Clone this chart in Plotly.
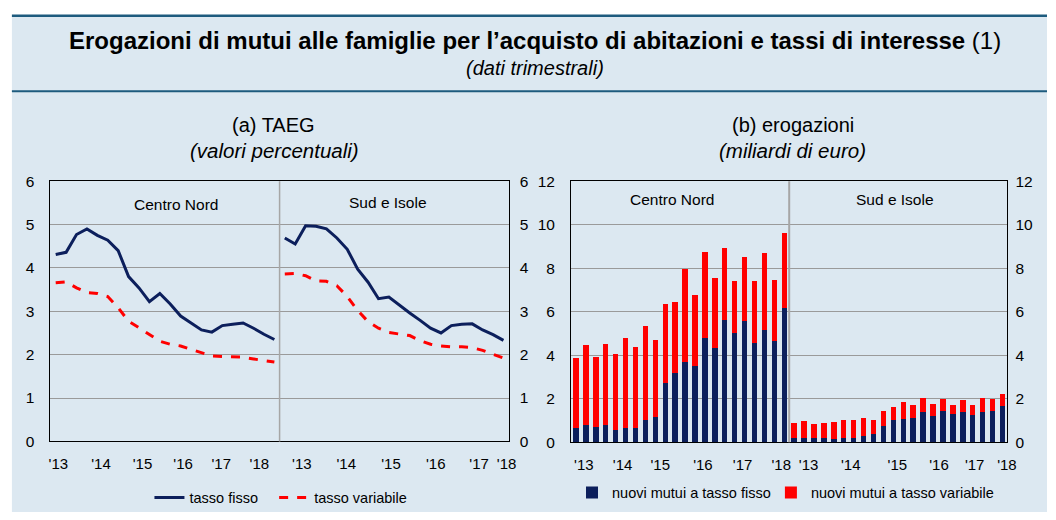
import plotly.graph_objects as go

W, H = 1056, 520

# ---------------- data ----------------
quarters = list(range(22))
cn_fisso = [4.31, 4.36, 4.77, 4.90, 4.75, 4.64, 4.40, 3.80, 3.54, 3.22, 3.41, 3.17,
            2.89, 2.73, 2.57, 2.52, 2.67, 2.70, 2.73, 2.61, 2.47, 2.35]
cn_variabile = [3.66, 3.68, 3.54, 3.43, 3.41, 3.34, 3.08, 2.77, 2.62, 2.46, 2.31, 2.24,
                2.20, 2.12, 2.05, 1.97, 1.96, 1.95, 1.94, 1.90, 1.86, 1.83]
si_fisso = [4.69, 4.55, 4.97, 4.96, 4.90, 4.69, 4.43, 3.97, 3.67, 3.29, 3.33, 3.14,
            2.96, 2.79, 2.61, 2.50, 2.67, 2.70, 2.71, 2.57, 2.46, 2.33]
si_variabile = [3.86, 3.87, 3.82, 3.70, 3.69, 3.59, 3.34, 3.02, 2.76, 2.61, 2.51, 2.48,
                2.44, 2.32, 2.24, 2.20, 2.18, 2.18, 2.16, 2.10, 2.01, 1.92]

# erogazioni (miliardi di euro): totals and fixed-rate component
cn_totale = [3.86, 4.49, 3.91, 4.53, 4.08, 4.80, 4.40, 5.33, 4.72, 6.37, 6.43, 7.96,
             6.76, 8.76, 7.56, 8.94, 7.43, 8.51, 7.43, 8.72, 7.47, 9.61]
cn_mutui_fisso = [0.64, 0.82, 0.71, 0.82, 0.56, 0.65, 0.68, 1.05, 1.16, 2.72, 3.19, 3.68,
                  3.51, 4.81, 4.35, 5.61, 5.01, 5.57, 4.56, 5.15, 4.65, 6.19]
si_totale = [0.89, 0.97, 0.83, 0.89, 0.92, 1.05, 1.01, 1.14, 1.05, 1.46, 1.63, 1.87,
             1.72, 2.03, 1.77, 1.98, 1.72, 1.95, 1.72, 2.03, 1.98, 2.23]
si_mutui_fisso = [0.22, 0.22, 0.22, 0.19, 0.15, 0.19, 0.22, 0.31, 0.37, 0.77, 1.01, 1.08,
                  1.10, 1.38, 1.20, 1.43, 1.29, 1.41, 1.25, 1.41, 1.46, 1.68]
cn_mutui_var = [round(t - f, 2) for t, f in zip(cn_totale, cn_mutui_fisso)]
si_mutui_var = [round(t - f, 2) for t, f in zip(si_totale, si_mutui_fisso)]

year_labels = ["'13", "'14", "'15", "'16", "'17", "'18"]
tick_pos_a = [0.26, 4.35, 8.34, 12.24, 15.9, 19.56, 23.64, 27.9, 32.2, 36.5, 40.66, 43.3]
tick_pos_b = [0.8, 4.7, 8.5, 12.8, 16.8, 20.7, 23.45, 27.7, 32.4, 36.6, 40.2, 43.45]

x_cn = quarters
x_si = [q + 22 for q in quarters]

NAVY = "#0c1f5c"
RED = "#ff0000"
BG = "#dce8f1"
TEAL = "#1d5b7e"
FONT = "Liberation Sans, Arial, sans-serif"

fig = go.Figure()

# ---- panel (a) lines ----
fig.add_trace(go.Scatter(x=x_cn, y=cn_fisso, mode="lines", name="tasso fisso",
                         line=dict(color=NAVY, width=3), xaxis="x", yaxis="y",
                         legend="legend"))
fig.add_trace(go.Scatter(x=x_cn, y=cn_variabile, mode="lines", name="tasso variabile",
                         line=dict(color=RED, width=3, dash="dash"), xaxis="x", yaxis="y",
                         legend="legend2"))
fig.add_trace(go.Scatter(x=x_si, y=si_fisso, mode="lines", name="tasso fisso",
                         line=dict(color=NAVY, width=3), xaxis="x", yaxis="y",
                         showlegend=False))
fig.add_trace(go.Scatter(x=x_si, y=si_variabile, mode="lines", name="tasso variabile",
                         line=dict(color=RED, width=3, dash="dash"), xaxis="x", yaxis="y",
                         showlegend=False))

# ---- panel (b) bars ----
fig.add_trace(go.Bar(x=x_cn + x_si, y=cn_mutui_fisso + si_mutui_fisso,
                     name="nuovi mutui a tasso fisso", marker=dict(color=NAVY, line=dict(width=0)),
                     width=0.55, xaxis="x2", yaxis="y2", legend="legend3"))
fig.add_trace(go.Bar(x=x_cn + x_si, y=cn_mutui_var + si_mutui_var,
                     name="nuovi mutui a tasso variabile", marker=dict(color=RED, line=dict(width=0)),
                     width=0.55, xaxis="x2", yaxis="y2", legend="legend4"))

# dummy invisible traces to activate right-side axes
fig.add_trace(go.Scatter(x=[None], y=[None], xaxis="x", yaxis="y3", showlegend=False,
                         hoverinfo="skip"))
fig.add_trace(go.Scatter(x=[None], y=[None], xaxis="x2", yaxis="y4", showlegend=False,
                         hoverinfo="skip"))

def px_x(p):
    return p / W

def px_y(p):
    return 1 - p / H

dom_a = [px_x(49), px_x(512)]
dom_b = [px_x(575), px_x(1016)]
ydom_a = [px_y(447), px_y(178)]
ydom_b = [px_y(448), px_y(178)]

axis_font = dict(family=FONT, size=15.5, color="black")
xfont = dict(family=FONT, size=15, color="black")

common_x = dict(range=[-0.5, 43.5], showgrid=False, showline=True, linecolor="black",
                linewidth=1, mirror=True, ticks="", tickfont=xfont, zeroline=False,
                ticklabelstandoff=9, fixedrange=True)

def leg(xpx, ypx):
    return dict(orientation="h", x=px_x(xpx), y=px_y(ypx), xanchor="left", yanchor="middle",
                bgcolor="rgba(0,0,0,0)", font=dict(family=FONT, size=14.5, color="black"),
                itemwidth=30)

fig.update_layout(
    width=W, height=H,
    margin=dict(l=0, r=0, t=0, b=0),
    paper_bgcolor="white",
    plot_bgcolor="white",
    barmode="stack",
    font=dict(family=FONT, color="black"),
    xaxis=dict(domain=dom_a, anchor="y", tickvals=tick_pos_a, ticktext=year_labels * 2,
               **common_x),
    xaxis2=dict(domain=dom_b, anchor="y2", tickvals=tick_pos_b, ticktext=year_labels * 2,
                **common_x),
    yaxis=dict(domain=ydom_a, anchor="x", range=[0, 6], dtick=1, showgrid=True,
               gridcolor="#9a9a9a", gridwidth=1, showline=True, linecolor="black",
               mirror=True, tickfont=axis_font, zeroline=False, ticks="",
               ticklabelstandoff=12),
    yaxis3=dict(domain=ydom_a, anchor="x", overlaying="y", side="right", range=[0, 6],
                dtick=1, showgrid=False, showline=False, tickfont=axis_font,
                zeroline=False, ticks="", ticklabelstandoff=10),
    yaxis2=dict(domain=ydom_b, anchor="x2", range=[0, 12], dtick=2, showgrid=True,
                gridcolor="#9a9a9a", gridwidth=1, showline=True, linecolor="black",
                mirror=True, tickfont=axis_font, zeroline=False, ticks="",
                ticklabelstandoff=12),
    yaxis4=dict(domain=ydom_b, anchor="x2", overlaying="y2", side="right", range=[0, 12],
                dtick=2, showgrid=False, showline=False, tickfont=axis_font,
                zeroline=False, ticks="", ticklabelstandoff=7),
    legend=leg(149, 505),
    legend2=leg(275, 505),
    legend3=leg(576, 500),
    legend4=leg(777, 500),
    showlegend=True,
)

shapes = [
    # blue background panel
    dict(type="rect", xref="paper", yref="paper", x0=px_x(10), x1=1, y0=0, y1=px_y(7),
         fillcolor=BG, line=dict(width=0), layer="below"),
    # header rules
    dict(type="line", xref="paper", yref="paper", x0=px_x(10), x1=1, y0=px_y(7), y1=px_y(7),
         line=dict(color=TEAL, width=2.5)),
    dict(type="line", xref="paper", yref="paper", x0=px_x(10), x1=1, y0=px_y(85), y1=px_y(85),
         line=dict(color=TEAL, width=2)),
    # dividers between Centro Nord and Sud e Isole
    dict(type="line", xref="x", yref="y domain", x0=21.5, x1=21.5, y0=0, y1=1,
         line=dict(color="#a6a6a6", width=1.5)),
    dict(type="line", xref="x2", yref="y2 domain", x0=21.5, x1=21.5, y0=0, y1=1,
         line=dict(color="#a6a6a6", width=2)),
]
fig.update_layout(shapes=shapes)

annotations = [
    dict(text="<b>Erogazioni di mutui alle famiglie per l’acquisto di abitazioni e tassi di interesse</b> (1)",
         x=px_x(539), y=px_y(33), xref="paper", yref="paper", showarrow=False,
         font=dict(family=FONT, size=24, color="black"), xanchor="center", yanchor="middle"),
    dict(text="<i>(dati trimestrali)</i>", x=px_x(539), y=px_y(61), xref="paper", yref="paper",
         showarrow=False, font=dict(family=FONT, size=20, color="black"),
         xanchor="center", yanchor="middle"),
    dict(text="(a) TAEG", x=px_x(274), y=px_y(120), xref="paper", yref="paper", showarrow=False,
         font=dict(family=FONT, size=20, color="black"), xanchor="center", yanchor="middle"),
    dict(text="<i>(valori percentuali)</i>", x=px_x(275), y=px_y(146), xref="paper", yref="paper",
         showarrow=False, font=dict(family=FONT, size=20.5, color="black"),
         xanchor="center", yanchor="middle"),
    dict(text="(b) erogazioni", x=px_x(799), y=px_y(120), xref="paper", yref="paper",
         showarrow=False, font=dict(family=FONT, size=20, color="black"),
         xanchor="center", yanchor="middle"),
    dict(text="<i>(miliardi di euro)</i>", x=px_x(799), y=px_y(146), xref="paper", yref="paper",
         showarrow=False, font=dict(family=FONT, size=20.5, color="black"),
         xanchor="center", yanchor="middle"),
    dict(text="Centro Nord", x=11.6, y=5.47, xref="x", yref="y", showarrow=False,
         font=dict(family=FONT, size=15.5, color="black")),
    dict(text="Sud e Isole", x=31.9, y=5.5, xref="x", yref="y", showarrow=False,
         font=dict(family=FONT, size=15.5, color="black")),
    dict(text="Centro Nord", x=9.7, y=11.16, xref="x2", yref="y2", showarrow=False,
         font=dict(family=FONT, size=15.5, color="black")),
    dict(text="Sud e Isole", x=32.2, y=11.16, xref="x2", yref="y2", showarrow=False,
         font=dict(family=FONT, size=15.5, color="black")),
]
fig.update_layout(annotations=annotations)

fig.write_html("out.html", config={"displayModeBar": False},
               post_script="document.body.style.margin='0';")
